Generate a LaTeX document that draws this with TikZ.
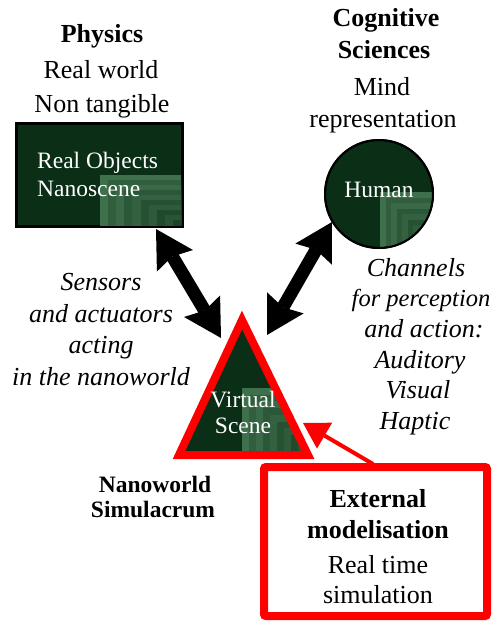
\documentclass[tikz,border=0pt]{standalone}
\usepackage{fontspec}
\setmainfont{Liberation Serif}[Ligatures=TeX]
\newfontfamily\tnr{Liberation Serif}
\usetikzlibrary{arrows.meta}
\definecolor{dkgreen}{RGB}{10,46,22}
\definecolor{ltgreen}{RGB}{100,160,115}
\definecolor{pred}{RGB}{255,0,0}
\begin{document}
\begin{tikzpicture}[x=1pt,y=-1pt,
  lab/.style={anchor=base, inner sep=0pt, font=\tnr\fontsize{26}{30}\selectfont},
  blab/.style={anchor=base, inner sep=0pt, font=\tnr\fontsize{26}{30}\selectfont\bfseries},
  ilab/.style={anchor=base, inner sep=0pt, font=\tnr\fontsize{26}{30}\selectfont\itshape},
  wlab/.style={anchor=base, inner sep=0pt, text=white, font=\tnr\fontsize{23.5}{28}\selectfont},
  nlab/.style={anchor=base, inner sep=0pt, font=\tnr\fontsize{23.5}{28}\selectfont\bfseries},
  bigarrow/.style={line width=13pt,
    {Stealth[length=37pt,width=42pt,inset=5pt,line width=0pt]}-{Stealth[length=37pt,width=42pt,inset=5pt,line width=0pt]}},
  redarrow/.style={pred, line width=4pt, -{Triangle[length=25pt,width=30pt,line width=0pt]}},
]
\useasboundingbox (0,0) rectangle (491,621);

% ---------- top texts
\node[blab] (phys) at (102,42) {Physics};
\node[lab] (realw) at (101,78) {Real world};
\node[lab] (nontg) at (102,112) {Non tangible};

\node[blab] (cogn) at (386,27) {Cognitive};
\node[blab] (scie) at (384,58) {Sciences};
\node[lab] (mind) at (382,95) {Mind};
\node[lab] (repr) at (383,127) {representation};

% ---------- real objects rectangle
\node[draw, line width=2pt, fill=dkgreen, minimum width=165pt, minimum height=102pt,
      inner sep=0pt] (robj) at (99,175) {};
\begin{scope}
  \clip (17,125) rectangle (181,225);
  \foreach \i in {0,...,9}{
    \pgfmathsetmacro\m{int(58-3*\i-12*mod(\i,2))}
    \fill[ltgreen!\m!dkgreen] ({100+\i*8.1},{175+\i*5}) rectangle (182,226);
  }
\end{scope}
\draw[line width=2pt] (robj.north west) rectangle (robj.south east);
\node[wlab, anchor=base west] (ro1) at (37,168) {Real Objects};
\node[wlab, anchor=base west] (ro2) at (37,196) {Nanoscene};

% ---------- human circle
\node[circle, draw, line width=2pt, fill=dkgreen, minimum size=108pt, inner sep=0pt]
      (human) at (379,194) {};
\begin{scope}
  \clip (379,194) circle (53);
  \foreach \i in {0,...,9}{
    \pgfmathsetmacro\m{int(58-3*\i-12*mod(\i,2))}
    \fill[ltgreen!\m!dkgreen] ({380+\i*5.5},{192+\i*5.5}) rectangle (440,250);
  }
\end{scope}
\draw[line width=2pt] (human) circle (54);
\node[wlab] (humt) at (379,197) {Human};

% ---------- virtual scene triangle
\fill[dkgreen] (242,320) -- (308,455) -- (179,455) -- cycle;
\begin{scope}
  \clip (242,320) -- (308,455) -- (179,455) -- cycle;
  \foreach \i in {0,...,9}{
    \pgfmathsetmacro\m{int(58-3*\i-12*mod(\i,2))}
    \fill[ltgreen!\m!dkgreen] ({242+\i*7},{388+\i*6.7}) rectangle (320,460);
  }
\end{scope}
\draw[pred, line width=8pt, line join=miter] (242,320) -- (308,455) -- (179,455) -- cycle;
\node[wlab] (virt) at (243,407) {Virtual};
\node[wlab] (scen) at (243,433) {Scene};

% ---------- black double arrows
\coordinate (a1s) at (156,229);
\coordinate (a1e) at (221,338);
\coordinate (a2s) at (332,222);
\coordinate (a2e) at (267,335);
\draw[bigarrow] (a1s) -- (a1e);
\draw[bigarrow] (a2s) -- (a2e);

% ---------- italic texts
\node[ilab] (s1) at (101,290) {Sensors};
\node[ilab] (s2) at (101,322) {and actuators};
\node[ilab] (s3) at (101,353) {acting};
\node[ilab] (s4) at (101,385) {in the nanoworld};

\node[ilab] (c1) at (416,276) {Channels};
\node[ilab, font=\tnr\fontsize{24.5}{30}\selectfont\itshape] (c2) at (421,306.5) {for perception};
\node[ilab] (c3) at (424,337) {and action:};
\node[ilab] (c4) at (420,368) {Auditory};
\node[ilab] (c5) at (418,398.5) {Visual};
\node[ilab] (c6) at (415,429) {Haptic};

% ---------- nanoworld simulacrum
\node[nlab] (nano) at (155,492) {Nanoworld};
\node[nlab] (simu) at (153,517) {Simulacrum};

% ---------- external modelisation box
\node[draw=pred, line width=8pt, rounded corners=2pt, minimum width=223pt, minimum height=149pt,
      inner sep=0pt] (ext) at (375.5,541.5) {};
\node[blab] (e1) at (378,507) {External};
\node[blab] (e2) at (378,538) {modelisation};
\node[lab] (e3) at (378,573) {Real time};
\node[lab] (e4) at (378,603) {simulation};

\coordinate (rs) at (373,464);
\coordinate (re) at (303,423);
\draw[redarrow] (rs) -- (re);
\end{tikzpicture}
\end{document}
